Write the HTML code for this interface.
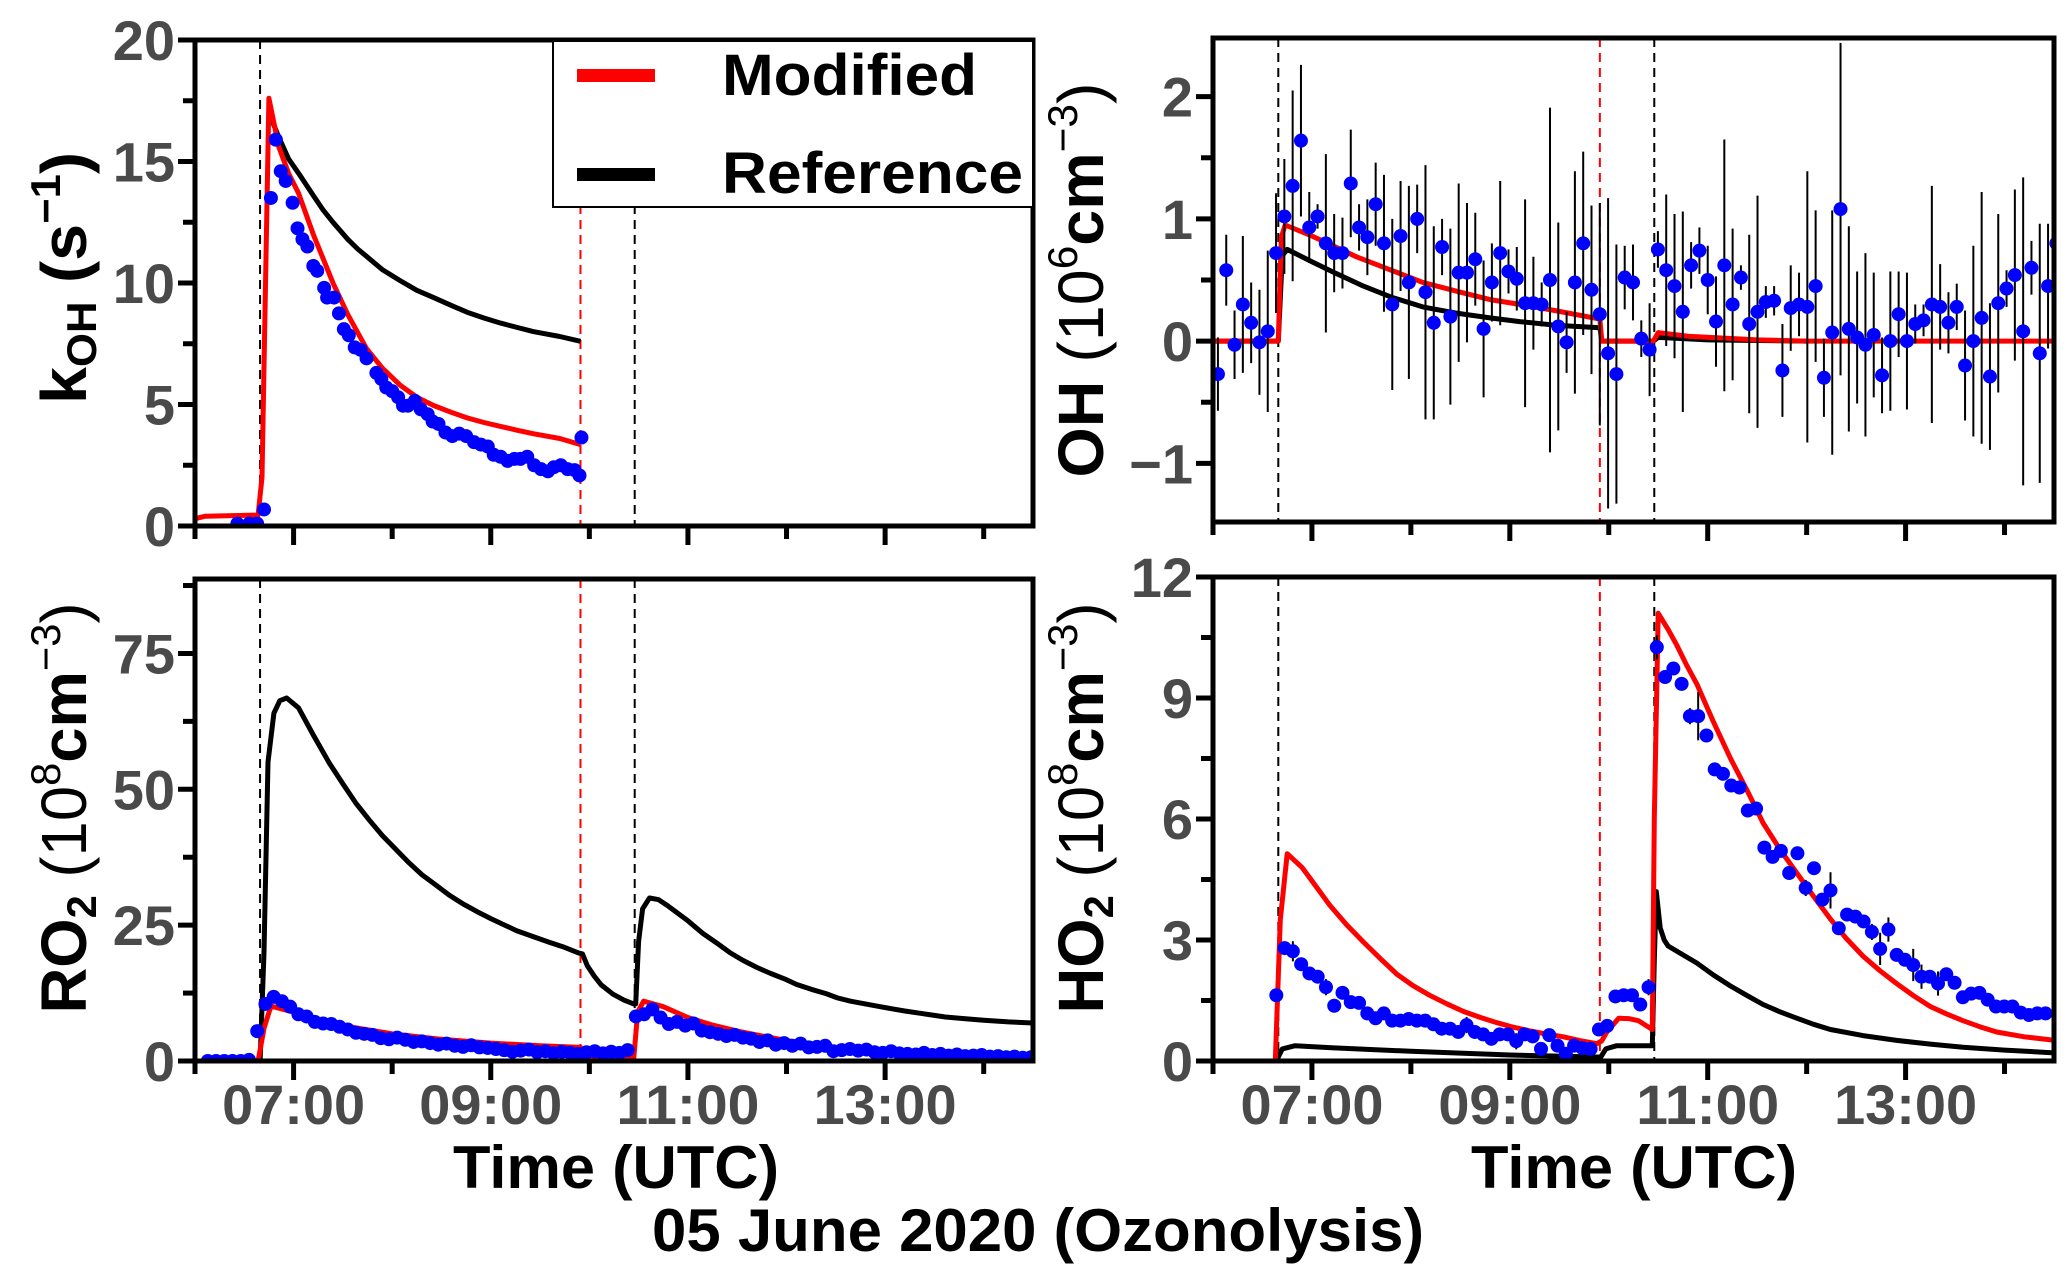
<!DOCTYPE html>
<html><head><meta charset="utf-8"><title>05 June 2020 (Ozonolysis)</title>
<style>
html,body{margin:0;padding:0;background:#fff;}
svg{display:block;font-family:"Liberation Sans",Arial,sans-serif;font-weight:bold;}
.tick{fill:#4a4a4a;font-size:56px;}
.ytitle{fill:#000;font-size:64px;}
</style></head>
<body>
<svg id="fig" xmlns="http://www.w3.org/2000/svg" width="2067" height="1282" viewBox="0 0 2067 1282"></svg>
<script>
// ---------------- data ----------------
// kOH panel
const kDotT=[6.43,6.55,6.63,6.70,6.77,6.82,6.87,6.92,6.99,7.04,7.09,7.14,7.20,7.24,7.31,7.34,7.41,7.46,7.51,7.56,7.62,7.68,7.74,7.84,7.89,7.94,8.00,8.06,8.11,8.16,8.23,8.29,8.36,8.41,8.47,8.54,8.61,8.68,8.75,8.83,8.90,8.97,9.03,9.10,9.17,9.24,9.30,9.37,9.44,9.51,9.58,9.64,9.71,9.78,9.85,9.90,9.92];
const kDotV=[0.1,0.1,0.1,0.68,13.5,15.9,14.6,14.2,13.3,12.25,11.8,11.5,10.7,10.5,9.8,9.4,9.4,8.75,8.1,7.85,7.35,7.25,6.9,6.3,6.05,5.7,5.55,5.3,4.95,4.95,5.15,4.8,4.6,4.3,4.2,3.85,3.7,3.8,3.7,3.45,3.35,3.27,2.93,2.85,2.68,2.76,2.76,2.85,2.5,2.34,2.25,2.42,2.5,2.34,2.3,2.08,3.64];
const kRedT=[6.0,6.1,6.64,6.68,6.75,6.85,6.95,7.05,7.2,7.4,7.55,7.74,7.9,8.08,8.25,8.42,8.6,8.76,8.93,9.1,9.27,9.43,9.7,9.91];
const kRedV=[0.3,0.4,0.45,2,17.6,15.6,14.5,13.7,12.0,10.0,8.7,7.3,6.5,5.8,5.3,4.96,4.68,4.45,4.26,4.1,3.94,3.8,3.6,3.35];
const kBlkT=[6.75,6.85,6.95,7.07,7.2,7.3,7.4,7.55,7.65,7.74,7.9,8.08,8.25,8.42,8.6,8.76,8.93,9.1,9.27,9.43,9.7,9.91];
const kBlkV=[17.0,16.0,15.1,14.4,13.6,13.0,12.5,11.8,11.4,11.1,10.55,10.1,9.7,9.4,9.08,8.8,8.56,8.35,8.17,8.0,7.8,7.6];
const kTicks=[0,5,10,15,20];

// OH panel (measurements every ~5 min)
const ohStart=6.05, ohStep=0.0839;
const ohVals=[-0.27,0.58,-0.03,0.30,0.15,-0.01,0.08,0.72,1.02,1.27,1.64,0.93,1.02,0.80,0.72,0.72,1.29,0.93,0.85,1.12,0.80,0.30,0.86,0.48,1.00,0.40,0.15,0.77,0.20,0.56,0.56,0.67,0.10,0.48,0.72,0.57,0.51,0.31,0.31,0.30,0.50,0.12,-0.01,0.48,0.80,0.42,0.22,-0.10,-0.27,0.52,0.48,0.02,-0.07,0.75,0.58,0.45,0.24,0.62,0.74,0.50,0.16,0.62,0.30,0.52,0.14,0.24,0.32,0.33,-0.24,0.27,0.30,0.28,0.45,-0.30,0.07,1.08,0.10,0.03,-0.03,0.05,-0.28,0.00,0.22,0.00,0.14,0.17,0.30,0.28,0.15,0.28,-0.20,0.00,0.19,-0.29,0.31,0.43,0.54,0.08,0.60,-0.10,0.45,0.80];
const ohErr=[0.30,0.29,0.28,0.56,0.33,0.43,0.66,0.49,0.47,0.78,0.62,0.29,0.10,0.73,0.32,0.29,0.44,0.19,0.31,0.34,0.56,0.70,0.45,0.79,0.28,1.04,0.79,0.23,0.72,0.73,0.57,0.38,0.56,0.32,0.59,0.18,0.26,0.85,0.38,0.18,1.41,0.85,0.25,0.91,0.75,0.69,0.91,1.27,1.06,0.26,0.31,0.15,0.38,0.15,0.62,0.59,0.82,0.19,0.19,0.28,0.37,1.03,0.62,0.10,0.73,0.95,0.13,0.12,0.38,0.35,0.26,1.11,0.62,0.32,1.00,1.36,0.84,0.54,0.75,0.51,0.31,0.57,0.35,0.56,0.16,0.13,0.97,0.35,0.25,0.19,0.45,0.78,1.03,0.60,0.73,0.15,0.70,1.26,0.22,1.06,0.51,0.30];
const ohRedT=[6.0,6.66,6.69,6.73,7.0,7.45,7.8,8.12,8.5,8.8,9.1,9.46,9.91,9.93,10.45,10.5,10.8,11.5,12.0,14.5];
const ohRedV=[0,0,0.85,0.95,0.86,0.69,0.58,0.48,0.40,0.34,0.30,0.25,0.18,0,0,0.07,0.04,0.01,0,0];
const ohBlkT=[6.0,6.66,6.70,6.75,7.0,7.2,7.52,7.8,8.12,8.45,8.8,9.1,9.46,9.91,9.93,10.45,10.5,11.0,12.0];
const ohBlkV=[0,0,0.7,0.75,0.65,0.57,0.45,0.36,0.28,0.23,0.19,0.16,0.13,0.11,0,0,0.03,0.01,0];
const ohTicks=[-1,0,1,2];

// RO2 panel
const roStart=6.13, roStep=0.0835;
const roVals=[0,0,0,0,0,0.2,5.5,10.5,11.8,11,10,8.6,8.2,7.2,6.9,6.8,6.3,5.8,5.2,5.0,4.8,4.2,4.0,4.3,3.9,3.5,3.6,3.3,3.0,3.2,2.8,2.6,2.9,2.5,2.4,2.2,2.0,1.7,1.9,2.1,1.6,1.8,1.4,1.7,1.5,1.3,1.6,1.8,1.4,1.7,1.5,2.0,8.2,8.6,9.5,8.0,6.8,7.2,6.5,6.9,5.6,5.3,5.0,4.6,4.8,4.3,4.1,3.5,3.8,3.0,3.3,2.8,3.2,2.5,2.6,2.8,1.8,2.0,2.2,1.9,2.1,1.6,1.5,1.8,1.4,1.3,1.2,1.5,1.1,1.3,1.0,1.2,0.9,1.0,1.1,0.8,0.9,0.7,0.8,0.6,0.7];
const roBlkT=[6.0,6.66,6.70,6.74,6.80,6.86,6.93,7.05,7.2,7.36,7.5,7.63,7.77,7.9,8.04,8.17,8.3,8.45,8.58,8.72,8.86,9.0,9.13,9.26,9.43,9.6,9.75,9.89,9.93,9.98,10.05,10.12,10.24,10.35,10.45,10.47,10.50,10.54,10.61,10.7,10.8,10.89,11.0,11.15,11.3,11.43,11.56,11.7,11.84,11.98,12.1,12.25,12.4,12.52,12.65,12.8,12.95,13.07,13.2,13.35,13.5,13.61,13.8,14.0,14.25,14.5];
const roBlkV=[0,0,20,55,64,66.3,66.8,65,60,54.9,51,47.5,44.3,41.5,38.9,36.5,34.3,32.3,30.5,28.9,27.5,26.2,25.1,24,22.9,21.8,20.9,19.9,19.7,17.5,15.6,14,12.3,11.2,10.5,10.5,22,28,30,29.7,28.5,27.3,25.8,23.5,21.6,19.9,18.5,17.2,16.1,15.1,14.1,13.2,12.4,11.6,11.0,10.5,10.0,9.6,9.2,8.8,8.4,8.1,7.8,7.5,7.2,7.0];
const roRedT=[6.0,6.64,6.70,6.77,7.0,7.25,7.5,8.0,8.5,9.0,9.5,9.91,9.93,10.45,10.49,10.55,10.75,11.0,11.25,11.5,11.75,12.0,12.25,12.5,12.75,13.0,13.5,14.0,14.5];
const roRedV=[0,0,6,10.1,9,7.6,6.5,5.0,4.0,3.3,2.8,2.5,0.4,0.4,9,11,10,8,6.6,5.5,4.6,3.8,3.0,2.4,1.9,1.6,1.0,0.6,0.4];
const roTicks=[0,25,50,75];

// HO2 panel
const hoStart=6.64, hoStep=0.0836;
const hoVals=[1.63,2.8,2.72,2.4,2.17,2.09,1.83,1.37,1.69,1.46,1.44,1.18,1.06,1.18,1.0,1.0,1.04,1.0,1.0,0.91,0.8,0.8,0.72,0.89,0.72,0.66,0.55,0.66,0.66,0.49,0.66,0.61,0.3,0.64,0.38,0.18,0.38,0.32,0.3,0.78,0.87,1.6,1.63,1.63,1.4,1.83,10.26,9.52,9.73,9.35,8.55,8.55,8.07,7.23,7.12,6.83,6.78,6.21,6.26,5.29,5.06,5.21,4.66,5.15,4.29,4.78,4.0,4.23,3.29,3.63,3.58,3.46,3.2,2.78,3.26,2.63,2.51,2.38,2.09,2.09,1.92,2.15,1.94,1.58,1.67,1.69,1.52,1.35,1.35,1.35,1.2,1.14,1.18,1.18];
const hoErr=[0.15,0.15,0.25,0.15,0.15,0.1,0.2,0.1,0.1,0.15,0.1,0.1,0.1,0.15,0.1,0.1,0.1,0.1,0.1,0.1,0.15,0.1,0.1,0.2,0.1,0.1,0.15,0.1,0.1,0.2,0.1,0.1,0.1,0.1,0.1,0.1,0.1,0.1,0.1,0.1,0.1,0.15,0.1,0.1,0.1,0.2,0.3,0.15,0.1,0.1,0.2,0.6,0.1,0.15,0.1,0.1,0.1,0.15,0.1,0.1,0.1,0.1,0.1,0.1,0.2,0.1,0.1,0.45,0.15,0.1,0.1,0.1,0.2,0.4,0.3,0.1,0.15,0.4,0.3,0.1,0.3,0.1,0.1,0.1,0.1,0.1,0.1,0.1,0.1,0.1,0.1,0.15,0.1,0.1];
const hoRedT=[6.0,6.63,6.68,6.75,6.9,7.05,7.18,7.35,7.52,7.7,7.86,8.02,8.19,8.36,8.53,8.7,8.87,9.03,9.2,9.37,9.54,9.72,9.88,9.93,9.98,10.1,10.2,10.3,10.44,10.46,10.5,10.6,10.69,10.79,10.89,11.06,11.23,11.4,11.56,11.73,11.9,12.07,12.24,12.4,12.57,12.74,12.91,13.08,13.25,13.42,13.58,13.75,13.92,14.2,14.51];
const hoRedV=[0,0,3.5,5.14,4.8,4.3,3.86,3.38,2.95,2.52,2.15,1.87,1.63,1.42,1.23,1.08,0.95,0.84,0.75,0.67,0.6,0.5,0.43,0.5,0.72,1.06,1.05,1.0,0.78,6,11.1,10.7,10.3,9.8,9.35,8.4,7.5,6.7,5.9,5.25,4.66,4.08,3.52,3.04,2.6,2.24,1.92,1.62,1.35,1.16,1.0,0.85,0.72,0.6,0.51];
const hoBlkT=[6.0,6.64,6.70,6.83,7.2,8.0,9.0,9.88,9.92,9.97,10.08,10.44,10.46,10.48,10.52,10.56,10.6,10.75,10.89,11.06,11.23,11.4,11.56,11.73,11.9,12.07,12.24,12.57,12.91,13.25,13.58,14.0,14.51];
const hoBlkV=[0,0,0.3,0.38,0.33,0.24,0.15,0.1,0.1,0.3,0.38,0.38,2.5,4.2,3.3,3.0,2.85,2.63,2.43,2.13,1.86,1.62,1.4,1.22,1.06,0.91,0.78,0.63,0.51,0.42,0.34,0.27,0.2];
const hoTicks=[0,3,6,9,12];

// shared
const timeMajor=[7,9,11,13];
const timeMajorLabels=["07:00","09:00","11:00","13:00"];
const timeMinor=[6,8,10,12,14];
const markerBlack1=6.66, markerRed=9.91, markerBlack2=10.46;

// ---------------- drawing ----------------
const NS="http://www.w3.org/2000/svg";
const svg=document.getElementById('fig');
function mk(tag,parent){const e=document.createElementNS(NS,tag);(parent||svg).appendChild(e);return e;}
function seq(start,step,n){const a=[];for(let i=0;i<n;i++)a.push(start+i*step);return a;}

function panel(cfg){
  const g=mk('g');
  
  
  const xs=t=>cfg.x0+(t-6)*(cfg.x1-cfg.x0)/8.5;
  const ys=v=>cfg.y1-(v-cfg.vmin)*(cfg.y1-cfg.y0)/(cfg.vmax-cfg.vmin);
  const cid='clip-'+cfg.name;
  const cp=mk('clipPath',g);cp.setAttribute('id',cid);
  const cr=mk('rect',cp);cr.setAttribute('x',cfg.x0);cr.setAttribute('y',cfg.y0);cr.setAttribute('width',cfg.x1-cfg.x0);cr.setAttribute('height',cfg.y1-cfg.y0);
  const pg=mk('g',g);pg.setAttribute('clip-path','url(#'+cid+')');
  
  
  [[markerBlack1,'#000','start-marker'],[markerRed,'#ff0000','modified-switch-marker'],[markerBlack2,'#000','second-injection-marker']].forEach(m=>{
    const l=mk('line',pg);
    
    
    l.setAttribute('x1',xs(m[0]));l.setAttribute('x2',xs(m[0]));l.setAttribute('y1',cfg.y0);l.setAttribute('y2',cfg.y1);
    l.setAttribute('stroke',m[1]);l.setAttribute('stroke-width',2);l.setAttribute('stroke-dasharray','9,6');
  });
  function line(T,V,color,name){
    const p=mk('polyline',pg);
    
    
    p.setAttribute('points',T.map((t,i)=>xs(t).toFixed(1)+','+ys(V[i]).toFixed(1)).join(' '));
    p.setAttribute('fill','none');p.setAttribute('stroke',color);p.setAttribute('stroke-width',5);p.setAttribute('stroke-linejoin','round');
  }
  line(cfg.blkT,cfg.blkV,'#000',cfg.name+'-reference-line');
  line(cfg.redT,cfg.redV,'#ff0000',cfg.name+'-modified-line');
  if(cfg.err){
    cfg.dotT.forEach((t,i)=>{
      const l=mk('line',pg);
      
      
      l.setAttribute('x1',xs(t));l.setAttribute('x2',xs(t));
      l.setAttribute('y1',ys(cfg.dotV[i]-cfg.err[i]));l.setAttribute('y2',ys(cfg.dotV[i]+cfg.err[i]));
      l.setAttribute('stroke','#000');l.setAttribute('stroke-width',2);
    });
  }
  cfg.dotT.forEach((t,i)=>{
    const c=mk('circle',pg);
    
    
    c.setAttribute('cx',xs(t));c.setAttribute('cy',ys(cfg.dotV[i]));c.setAttribute('r',7);c.setAttribute('fill','#0000ff');
  });
  const fr=mk('rect',g);
  
  
  fr.setAttribute('x',cfg.x0);fr.setAttribute('y',cfg.y0);fr.setAttribute('width',cfg.x1-cfg.x0);fr.setAttribute('height',cfg.y1-cfg.y0);
  fr.setAttribute('fill','none');fr.setAttribute('stroke','#000');fr.setAttribute('stroke-width',5);
  cfg.yticks.forEach((v,i)=>{
    const y=ys(v);
    const t=mk('line',g);
    
    
    t.setAttribute('x1',cfg.x0-17);t.setAttribute('x2',cfg.x0);t.setAttribute('y1',y);t.setAttribute('y2',y);t.setAttribute('stroke','#000');t.setAttribute('stroke-width',5);
    const tx=mk('text',g);
    
    
    tx.setAttribute('class','tick');tx.setAttribute('x',cfg.x0-20);tx.setAttribute('y',y+20);tx.setAttribute('text-anchor','end');
    tx.textContent=v<0?'\u2212'+Math.abs(v):String(v);
    if(i<cfg.yticks.length-1){
      const mv=(v+cfg.yticks[i+1])/2;
      const m=mk('line',g);
      
      
      m.setAttribute('x1',cfg.x0-12);m.setAttribute('x2',cfg.x0);m.setAttribute('y1',ys(mv));m.setAttribute('y2',ys(mv));m.setAttribute('stroke','#000');m.setAttribute('stroke-width',5);
    }
  });
  const step=cfg.yticks[1]-cfg.yticks[0];
  [cfg.yticks[0]-step/2,cfg.yticks[cfg.yticks.length-1]+step/2].forEach(mv=>{
    if(mv>=cfg.vmin&&mv<=cfg.vmax){
      const m=mk('line',g);
      
      
      m.setAttribute('x1',cfg.x0-12);m.setAttribute('x2',cfg.x0);m.setAttribute('y1',ys(mv));m.setAttribute('y2',ys(mv));m.setAttribute('stroke','#000');m.setAttribute('stroke-width',5);
    }
  });
  timeMajor.forEach((t,i)=>{
    const x=xs(t);
    const l=mk('line',g);
    
    
    l.setAttribute('x1',x);l.setAttribute('x2',x);l.setAttribute('y1',cfg.y1);l.setAttribute('y2',cfg.y1+19);l.setAttribute('stroke','#000');l.setAttribute('stroke-width',5);
    if(cfg.xlabels){
      const tx=mk('text',g);
      
      
      tx.setAttribute('class','tick');tx.setAttribute('x',x);tx.setAttribute('y',cfg.y1+63);tx.setAttribute('text-anchor','middle');
      tx.setAttribute('textLength',143);tx.setAttribute('lengthAdjust','spacingAndGlyphs');
      tx.textContent=timeMajorLabels[i];
    }
  });
  timeMinor.forEach(t=>{
    const x=xs(t);
    const l=mk('line',g);
    
    
    l.setAttribute('x1',x);l.setAttribute('x2',x);l.setAttribute('y1',cfg.y1);l.setAttribute('y2',cfg.y1+13);l.setAttribute('stroke','#000');l.setAttribute('stroke-width',5);
  });
  return g;
}

panel({name:'koh-panel',x0:195,x1:1033,y0:40,y1:526,vmin:0,vmax:20,yticks:kTicks,
  dotT:kDotT,dotV:kDotV,redT:kRedT,redV:kRedV,blkT:kBlkT,blkV:kBlkV,xlabels:false});
panel({name:'oh-panel',x0:1213,x1:2054,y0:38,y1:522,vmin:-1.48,vmax:2.48,yticks:ohTicks,
  dotT:seq(ohStart,ohStep,ohVals.length),dotV:ohVals,err:ohErr,redT:ohRedT,redV:ohRedV,blkT:ohBlkT,blkV:ohBlkV,xlabels:false});
panel({name:'ro2-panel',x0:195,x1:1033,y0:579,y1:1061,vmin:0,vmax:88.7,yticks:roTicks,
  dotT:seq(roStart,roStep,roVals.length),dotV:roVals,redT:roRedT,redV:roRedV,blkT:roBlkT,blkV:roBlkV,xlabels:true});
panel({name:'ho2-panel',x0:1213,x1:2054,y0:577,y1:1061,vmin:0,vmax:12,yticks:hoTicks,
  dotT:seq(hoStart,hoStep,hoVals.length),dotV:hoVals,err:hoErr,redT:hoRedT,redV:hoRedV,blkT:hoBlkT,blkV:hoBlkV,xlabels:true});
</script>

<svg style="position:absolute;left:0;top:0" xmlns="http://www.w3.org/2000/svg" width="2067" height="1282" viewBox="0 0 2067 1282">
  <g>
    <rect x="553" y="41" width="480" height="166" fill="#fff" stroke="#000" stroke-width="2"/>
    <rect x="577" y="69" width="78" height="13" fill="#ff0000"/>
    <text x="722" y="95" font-size="58" textLength="255" lengthAdjust="spacingAndGlyphs">Modified</text>
    <rect x="577" y="168" width="78" height="13" fill="#000"/>
    <text x="722" y="193" font-size="58" textLength="301" lengthAdjust="spacingAndGlyphs">Reference</text>
  </g>
  <text class="ytitle" transform="translate(86,278) rotate(-90)" text-anchor="middle" textLength="252" lengthAdjust="spacingAndGlyphs">k<tspan font-size="42" dy="10">OH</tspan><tspan dy="-10">  (s</tspan><tspan font-size="42" dy="-26">−1</tspan><tspan dy="26">)</tspan></text>
  <text class="ytitle" transform="translate(86,808) rotate(-90)" text-anchor="middle" textLength="411" lengthAdjust="spacingAndGlyphs">RO<tspan font-size="42" dy="10">2</tspan><tspan dy="-10" font-weight="normal">  (10</tspan><tspan font-size="42" dy="-26" font-weight="normal">8</tspan><tspan dy="26">cm</tspan><tspan font-size="42" dy="-26" font-weight="normal">−3</tspan><tspan dy="26" font-weight="normal">)</tspan></text>
  <text class="ytitle" transform="translate(1103,280) rotate(-90)" text-anchor="middle" textLength="395" lengthAdjust="spacingAndGlyphs">OH<tspan font-weight="normal">  (10</tspan><tspan font-size="42" dy="-26" font-weight="normal">6</tspan><tspan dy="26">cm</tspan><tspan font-size="42" dy="-26" font-weight="normal">−3</tspan><tspan dy="26" font-weight="normal">)</tspan></text>
  <text class="ytitle" transform="translate(1103,808) rotate(-90)" text-anchor="middle" textLength="411" lengthAdjust="spacingAndGlyphs">HO<tspan font-size="42" dy="10">2</tspan><tspan dy="-10" font-weight="normal">  (10</tspan><tspan font-size="42" dy="-26" font-weight="normal">8</tspan><tspan dy="26">cm</tspan><tspan font-size="42" dy="-26" font-weight="normal">−3</tspan><tspan dy="26" font-weight="normal">)</tspan></text>
  <text x="616" y="1188" font-size="60" text-anchor="middle" textLength="326" lengthAdjust="spacingAndGlyphs">Time (UTC)</text>
  <text x="1634" y="1188" font-size="60" text-anchor="middle" textLength="326" lengthAdjust="spacingAndGlyphs">Time (UTC)</text>
  <text x="1038" y="1251" font-size="60" text-anchor="middle" textLength="772" lengthAdjust="spacingAndGlyphs">05 June 2020 (Ozonolysis)</text>
</svg>
</body></html>
